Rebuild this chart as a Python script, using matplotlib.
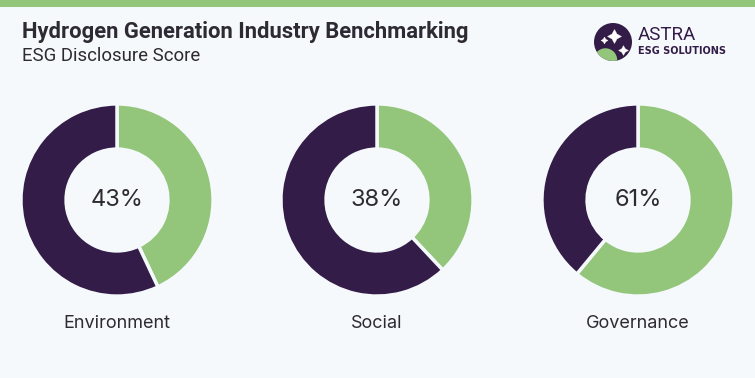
import matplotlib.pyplot as plt
from matplotlib.patches import Circle, Rectangle

# data
categories = ['Environment', 'Social', 'Governance']
scores = [43, 38, 61]

green = '#93c67b'
purple = '#331c47'
bg = '#f5f9fc'
text_col = '#2e2a33'

fig = plt.figure(figsize=(7.55, 3.78), dpi=100, facecolor=bg)

# top green band
fig.patches.append(Rectangle((0, 1 - 7 / 378), 1, 7 / 378, transform=fig.transFigure,
                             facecolor=green, edgecolor='none', zorder=0))

# title and subtitle
fig.text(22 / 755, 1 - 38 / 378, 'Hydrogen Generation Industry Benchmarking',
         fontsize=15.8, fontweight='bold', family='Roboto', color=text_col)
fig.text(22 / 755, 1 - 61 / 378, 'ESG Disclosure Score',
         fontsize=13.4, family='Roboto', color=text_col)

# logo
lax = fig.add_axes([594 / 755, 1 - 61 / 378, 38 / 755, 38 / 378])
lax.set_xlim(-1, 1)
lax.set_ylim(-1, 1)
lax.set_aspect('equal')
lax.axis('off')
logo = Circle((0, 0), 1, facecolor=purple, edgecolor='none')
lax.add_patch(logo)
hill = Circle((-0.4, -0.95), 0.62, facecolor=green, edgecolor='none')
lax.add_patch(hill)
hill.set_clip_path(logo)
for x, y, s in [(0.05, 0.3, 10), (-0.5, 0.12, 5), (0.5, -0.4, 7)]:
    lax.plot(x, y, marker=(4, 1, 0), markersize=s, color='white', mec='white', mew=0.3)
fig.text(638 / 755, 1 - 40 / 378, 'ASTRA', fontsize=13.5, color=purple, family='Roboto')
fig.text(638 / 755, 1 - 54 / 378, 'ESG SOLUTIONS', fontsize=7, fontweight='bold',
         color=purple, family='DejaVu Sans')

# donuts
centers = [117, 377, 638]
size = 196
for name, val, cx in zip(categories, scores, centers):
    ax = fig.add_axes([(cx - size / 2) / 755, 1 - (200 + size / 2) / 378,
                       size / 755, size / 378])
    ax.pie([val, 100 - val], colors=[green, purple], startangle=90, counterclock=False,
           radius=1.0, wedgeprops=dict(width=0.47, edgecolor=bg, linewidth=2.5))
    ax.set_xlim(-1.02, 1.02)
    ax.set_ylim(-1.02, 1.02)
    ax.text(0, 0, f'{val}%', ha='center', va='center', fontsize=17,
            family='Inter', color=text_col)
    fig.text(cx / 755, 1 - 323 / 378, name, ha='center', va='center',
             fontsize=13, family='Inter', color=text_col)

fig.savefig('out.png', dpi=100, facecolor=bg)
